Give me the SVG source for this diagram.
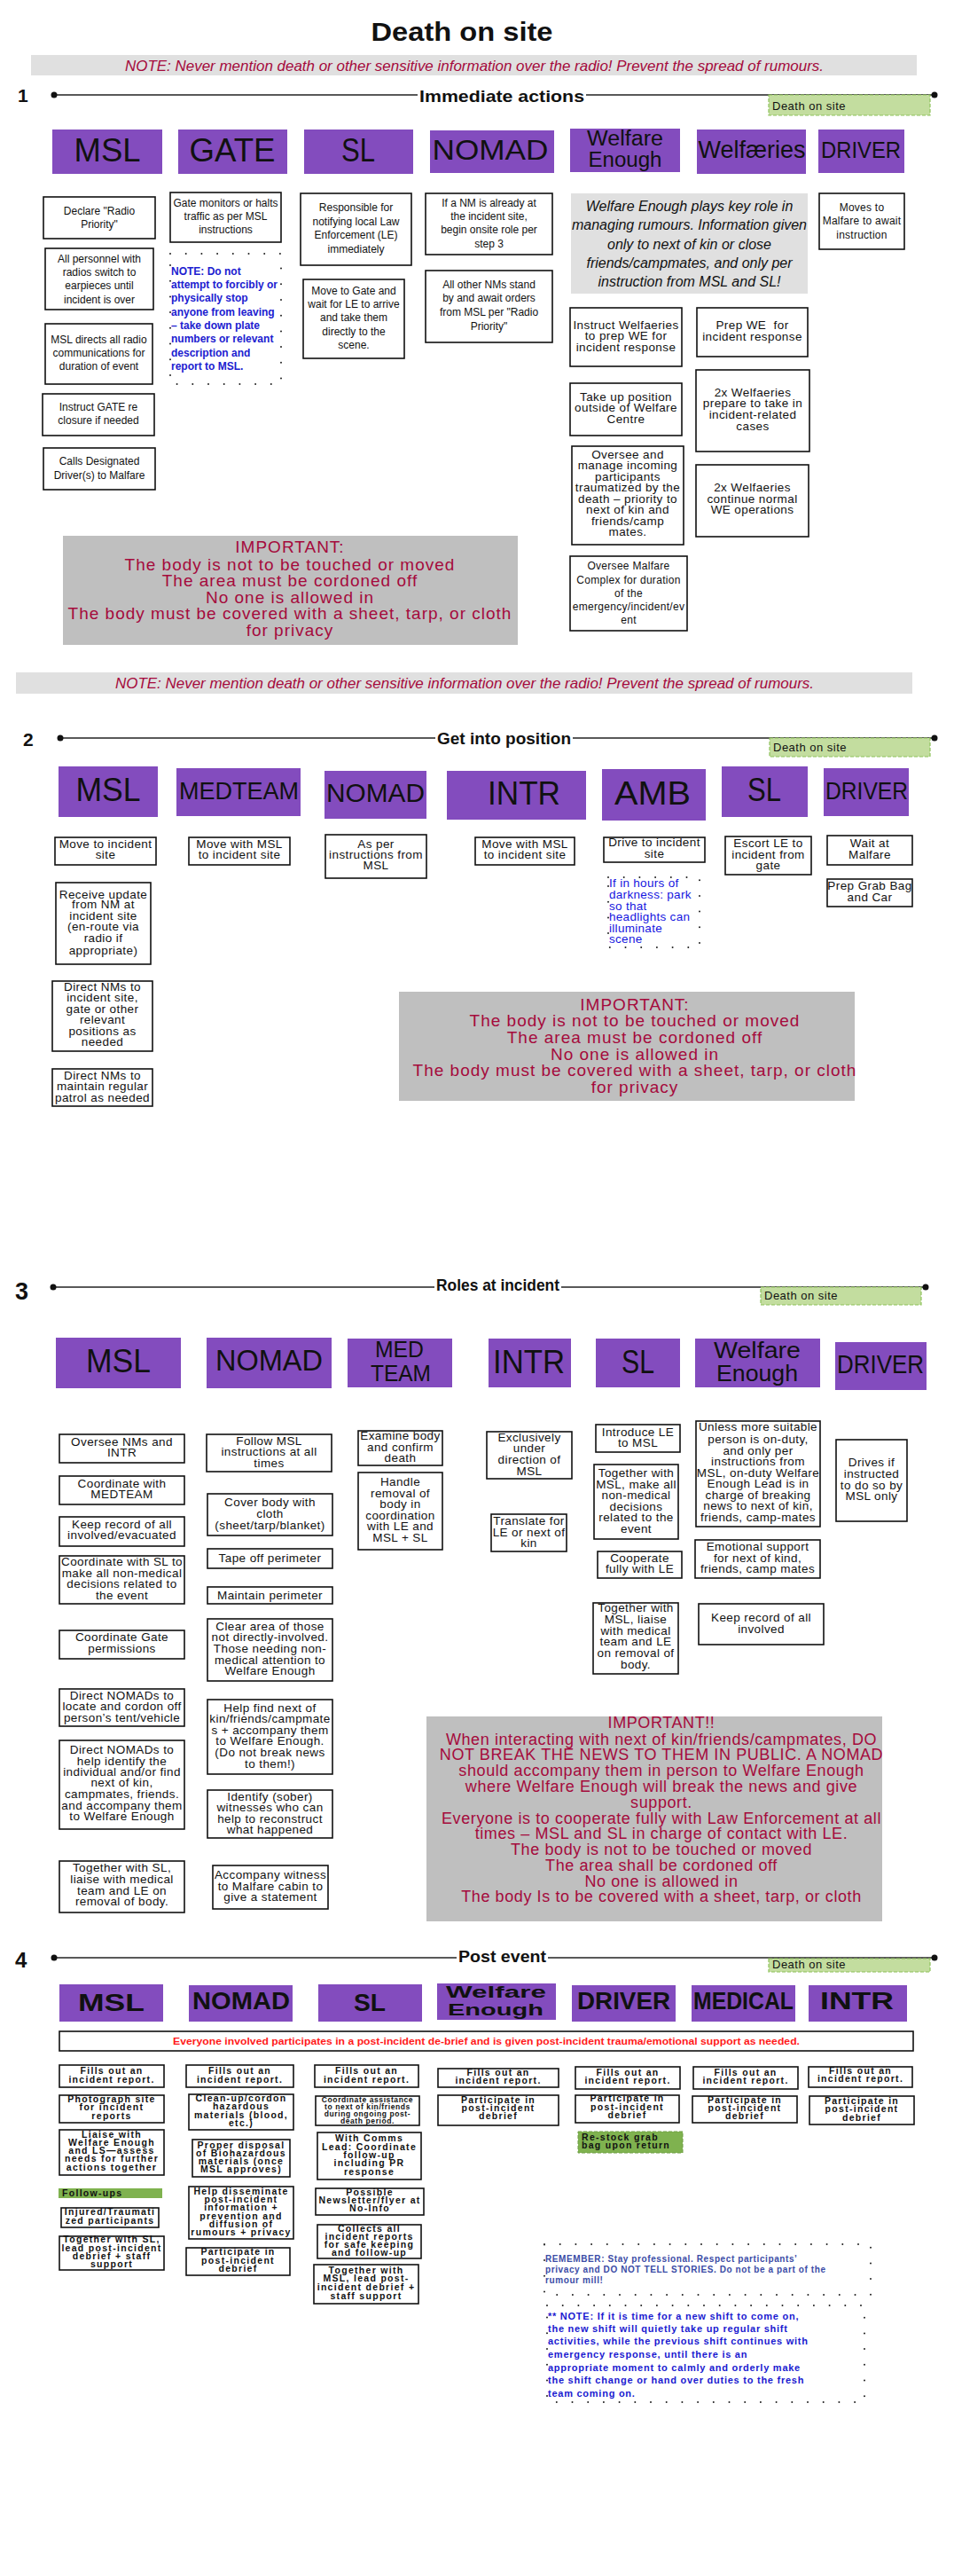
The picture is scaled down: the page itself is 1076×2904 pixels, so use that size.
<svg xmlns="http://www.w3.org/2000/svg" width="1076" height="2904" viewBox="0 0 1076 2904">
<defs>
<style>
text{font-family:"Liberation Sans",Arial,sans-serif;fill:#111}
.hd{fill:#834cbe}
.hl{text-anchor:middle;fill:#111}
.hl4{text-anchor:middle;fill:#111;font-weight:bold}
.bx{fill:#fff;stroke:#111;stroke-width:1.6}
.s1{font-size:12px;text-anchor:middle}
.s2{font-size:13.5px;letter-spacing:0.4px;text-anchor:middle}
.s4{font-size:10.5px;font-weight:bold;letter-spacing:1.3px;text-anchor:middle}
.s4l{font-size:10.5px;font-weight:bold;letter-spacing:1.3px}
.imp{fill:#bfbfbf}
.it{fill:#a50a3c;text-anchor:middle;font-size:19px;letter-spacing:1px}
.it3{fill:#a50a3c;text-anchor:middle;font-size:18px;letter-spacing:0.6px}
.nb{fill:#e0e0e0}
.nt{font-size:17px;font-style:italic;fill:#a50a3c;text-anchor:middle}
.tag{fill:#c3dd9f;stroke:#8ec25b;stroke-width:1.2;stroke-dasharray:4 2}
.tagt{font-size:13px;letter-spacing:0.5px}
.dotb{fill:none;stroke:#222;stroke-width:2;stroke-linecap:round;stroke-dasharray:0 17.7}
.ln{stroke:#222;stroke-width:1.5}
.sec{font-weight:bold}
.st{font-weight:bold;font-size:19px}
.gr{fill:#7fb24f}
</style>
</defs>
<rect width="1076" height="2904" fill="#fff"/>

<g id="title"><text x="521" y="46" font-size="30" font-weight="bold" text-anchor="middle" textLength="205" lengthAdjust="spacingAndGlyphs">Death on site</text></g>

<g id="note-top"><rect class="nb" x="35" y="62" width="999" height="23"/><text class="nt" x="535" y="80" textLength="788" lengthAdjust="spacingAndGlyphs">NOTE: Never mention death or other sensitive information over the radio! Prevent the spread of rumours.</text></g>

<g id="connectors">
<line class="ln" x1="61" y1="107" x2="471" y2="107"/><line class="ln" x1="661" y1="107" x2="1054" y2="107"/>
<circle cx="61" cy="107" r="3.5" fill="#111"/><circle cx="1054" cy="107" r="3.5" fill="#111"/>
<line class="ln" x1="68" y1="832" x2="491" y2="832"/><line class="ln" x1="646" y1="832" x2="1054" y2="832"/>
<circle cx="68" cy="832" r="3.5" fill="#111"/><circle cx="1054" cy="832" r="3.5" fill="#111"/>
<line class="ln" x1="60" y1="1451" x2="490" y2="1451"/><line class="ln" x1="633" y1="1451" x2="1044" y2="1451"/>
<circle cx="60" cy="1451" r="3.5" fill="#111"/><circle cx="1044" cy="1451" r="3.5" fill="#111"/>
<line class="ln" x1="61" y1="2207" x2="515" y2="2207"/><line class="ln" x1="618" y1="2207" x2="1054" y2="2207"/>
<circle cx="61" cy="2207" r="3.5" fill="#111"/><circle cx="1054" cy="2207" r="3.5" fill="#111"/>
</g>

<!-- SECTION 1 -->
<g id="s1-label"><text class="sec" x="20" y="115" font-size="21">1</text><text class="st" x="473" y="115" textLength="186" lengthAdjust="spacingAndGlyphs">Immediate actions</text></g>
<g id="s1-tag"><rect class="tag" x="867" y="107" width="182" height="23"/><text class="tagt" x="871" y="124">Death on site</text></g>

<g id="s1-h-msl"><rect class="hd" x="59" y="146" width="124" height="50"/><text class="hl" x="121" y="182" font-size="37" textLength="75" lengthAdjust="spacingAndGlyphs">MSL</text></g>
<g id="s1-h-gate"><rect class="hd" x="201" y="146" width="123" height="50"/><text class="hl" x="262" y="182" font-size="37" textLength="97" lengthAdjust="spacingAndGlyphs">GATE</text></g>
<g id="s1-h-sl"><rect class="hd" x="343" y="146" width="123" height="50"/><text class="hl" x="404" y="182" font-size="37" textLength="38" lengthAdjust="spacingAndGlyphs">SL</text></g>
<g id="s1-h-nomad"><rect class="hd" x="485" y="147" width="140" height="48"/><text class="hl" x="553" y="180" font-size="31" textLength="131" lengthAdjust="spacingAndGlyphs">NOMAD</text></g>
<g id="s1-h-we"><rect class="hd" x="643" y="145" width="124" height="49"/><text class="hl" x="705" y="164" font-size="23" textLength="86" lengthAdjust="spacingAndGlyphs">Welfare</text><text class="hl" x="705" y="188" font-size="23" textLength="83" lengthAdjust="spacingAndGlyphs">Enough</text></g>
<g id="s1-h-welfaeries"><rect class="hd" x="786" y="146" width="123" height="50"/><text class="hl" x="848" y="178" font-size="27" textLength="121" lengthAdjust="spacingAndGlyphs">Welfæries</text></g>
<g id="s1-h-driver"><rect class="hd" x="923" y="146" width="97" height="49"/><text class="hl" x="971" y="178" font-size="26" textLength="90" lengthAdjust="spacingAndGlyphs">DRIVER</text></g>

<g id="s1-msl-1"><rect class="bx" x="49" y="222" width="126" height="47"/><text class="s1"><tspan x="112" y="242">Declare "Radio</tspan><tspan x="112" y="257">Priority"</tspan></text></g>
<g id="s1-msl-2"><rect class="bx" x="51" y="280" width="122" height="69"/><text class="s1"><tspan x="112" y="296">All personnel with</tspan><tspan x="112" y="311">radios switch to</tspan><tspan x="112" y="326">earpieces until</tspan><tspan x="112" y="342">incident is over</tspan></text></g>
<g id="s1-msl-3"><rect class="bx" x="51" y="365" width="121" height="68"/><text class="s1"><tspan x="111.5" y="387">MSL directs all radio</tspan><tspan x="111.5" y="402">communications for</tspan><tspan x="111.5" y="417">duration of event</tspan></text></g>
<g id="s1-msl-4"><rect class="bx" x="48" y="444" width="126" height="47"/><text class="s1"><tspan x="111" y="463">Instruct GATE re</tspan><tspan x="111" y="478">closure if needed</tspan></text></g>
<g id="s1-msl-5"><rect class="bx" x="49" y="505" width="126" height="47"/><text class="s1"><tspan x="112" y="524">Calls Designated</tspan><tspan x="112" y="540">Driver(s) to Malfare</tspan></text></g>

<g id="s1-gate-1"><rect class="bx" x="192" y="217" width="125" height="56"/><text class="s1"><tspan x="254.5" y="233">Gate monitors or halts</tspan><tspan x="254.5" y="248">traffic as per MSL</tspan><tspan x="254.5" y="263">instructions</tspan></text></g>
<g id="s1-gate-note"><rect class="dotb" x="192" y="286" width="125" height="147"/><text font-size="12" font-weight="bold" style="fill:#2020d0"><tspan x="193" y="310">NOTE: Do not</tspan><tspan x="193" y="325">attempt to forcibly or</tspan><tspan x="193" y="340">physically stop</tspan><tspan x="193" y="356">anyone from leaving</tspan><tspan x="193" y="371">– take down plate</tspan><tspan x="193" y="386">numbers or relevant</tspan><tspan x="193" y="402">description and</tspan><tspan x="193" y="417">report to MSL.</tspan></text></g>

<g id="s1-sl-1"><rect class="bx" x="339" y="218" width="125" height="81"/><text class="s1"><tspan x="401.5" y="238">Responsible for</tspan><tspan x="401.5" y="254">notifying local Law</tspan><tspan x="401.5" y="269">Enforcement (LE)</tspan><tspan x="401.5" y="285">immediately</tspan></text></g>
<g id="s1-sl-2"><rect class="bx" x="342" y="315" width="114" height="89"/><text class="s1"><tspan x="399" y="332">Move to Gate and</tspan><tspan x="399" y="347">wait for LE to arrive</tspan><tspan x="399" y="362">and take them</tspan><tspan x="399" y="378">directly to the</tspan><tspan x="399" y="393">scene.</tspan></text></g>

<g id="s1-nomad-1"><rect class="bx" x="480" y="218" width="143" height="69"/><text class="s1"><tspan x="551.5" y="233">If a NM is already at</tspan><tspan x="551.5" y="248">the incident site,</tspan><tspan x="551.5" y="263">begin onsite role per</tspan><tspan x="551.5" y="279">step 3</tspan></text></g>
<g id="s1-nomad-2"><rect class="bx" x="480" y="305" width="143" height="81"/><text class="s1"><tspan x="551.5" y="325">All other NMs stand</tspan><tspan x="551.5" y="340">by and await orders</tspan><tspan x="551.5" y="356">from MSL per "Radio</tspan><tspan x="551.5" y="372">Priority"</tspan></text></g>

<g id="s1-we-note"><rect class="nb" x="644" y="218" width="267" height="113"/><text font-size="16" font-style="italic" text-anchor="middle"><tspan x="777.5" y="238">Welfare Enough plays key role in</tspan><tspan x="777.5" y="259">managing rumours. Information given</tspan><tspan x="777.5" y="281">only to next of kin or close</tspan><tspan x="777.5" y="302">friends/campmates, and only per</tspan><tspan x="777.5" y="323">instruction from MSL and SL!</tspan></text></g>
<g id="s1-we-1"><rect class="bx" x="643" y="347" width="126" height="66"/><text class="s2"><tspan x="706" y="371">Instruct Welfaeries</tspan><tspan x="706" y="383">to prep WE for</tspan><tspan x="706" y="396">incident response</tspan></text></g>
<g id="s1-we-2"><rect class="bx" x="643" y="432" width="126" height="59"/><text class="s2"><tspan x="706" y="452">Take up position</tspan><tspan x="706" y="464">outside of Welfare</tspan><tspan x="706" y="477">Centre</tspan></text></g>
<g id="s1-we-3"><rect class="bx" x="645" y="503" width="126" height="111"/><text class="s2"><tspan x="708" y="517">Oversee and</tspan><tspan x="708" y="529">manage incoming</tspan><tspan x="708" y="542">participants</tspan><tspan x="708" y="554">traumatized by the</tspan><tspan x="708" y="567">death – priority to</tspan><tspan x="708" y="579">next of kin and</tspan><tspan x="708" y="592">friends/camp</tspan><tspan x="708" y="604">mates.</tspan></text></g>
<g id="s1-we-4"><rect class="bx" x="643" y="627" width="132" height="84"/><text class="s1" letter-spacing="0.3"><tspan x="709" y="642">Oversee Malfare</tspan><tspan x="709" y="658">Complex for duration</tspan><tspan x="709" y="673">of the</tspan><tspan x="709" y="688">emergency/incident/ev</tspan><tspan x="709" y="703">ent</tspan></text></g>

<g id="s1-wf-1"><rect class="bx" x="786" y="347" width="125" height="55"/><text class="s2" xml:space="preserve"><tspan x="848.5" y="371">Prep WE  for</tspan><tspan x="848.5" y="384">incident response</tspan></text></g>
<g id="s1-wf-2"><rect class="bx" x="785" y="417" width="128" height="92"/><text class="s2"><tspan x="849" y="447">2x Welfaeries</tspan><tspan x="849" y="459">prepare to take in</tspan><tspan x="849" y="472">incident-related</tspan><tspan x="849" y="485">cases</tspan></text></g>
<g id="s1-wf-3"><rect class="bx" x="785" y="524" width="127" height="81"/><text class="s2"><tspan x="848.5" y="554">2x Welfaeries</tspan><tspan x="848.5" y="567">continue normal</tspan><tspan x="848.5" y="579">WE operations</tspan></text></g>

<g id="s1-driver-1"><rect class="bx" x="924" y="218" width="96" height="63"/><text class="s1" letter-spacing="0.25"><tspan x="972" y="238">Moves to</tspan><tspan x="972" y="253">Malfare to await</tspan><tspan x="972" y="269">instruction</tspan></text></g>

<g id="s1-important"><rect class="imp" x="71" y="604" width="513" height="123"/><text class="it"><tspan x="327" y="623">IMPORTANT:</tspan><tspan x="327" y="643">The body is not to be touched or moved</tspan><tspan x="327" y="661">The area must be cordoned off</tspan><tspan x="327" y="680">No one is allowed in</tspan><tspan x="327" y="698">The body must be covered with a sheet, tarp, or cloth</tspan><tspan x="327" y="717">for privacy</tspan></text></g>

<g id="note-mid"><rect class="nb" x="18" y="758" width="1011" height="24"/><text class="nt" x="524" y="776" textLength="788" lengthAdjust="spacingAndGlyphs">NOTE: Never mention death or other sensitive information over the radio! Prevent the spread of rumours.</text></g>

<!-- SECTION 2 -->
<g id="s2-label"><text class="sec" x="26" y="841" font-size="21">2</text><text class="st" x="493" y="839" textLength="151" lengthAdjust="spacingAndGlyphs">Get into position</text></g>
<g id="s2-tag"><rect class="tag" x="868" y="832" width="181" height="21"/><text class="tagt" x="872" y="847">Death on site</text></g>

<g id="s2-h-msl"><rect class="hd" x="66" y="864" width="112" height="57"/><text class="hl" x="122" y="903" font-size="37" textLength="73" lengthAdjust="spacingAndGlyphs">MSL</text></g>
<g id="s2-h-medteam"><rect class="hd" x="199" y="866" width="140" height="54"/><text class="hl" x="269.5" y="901" font-size="27" textLength="135" lengthAdjust="spacingAndGlyphs">MEDTEAM</text></g>
<g id="s2-h-nomad"><rect class="hd" x="366" y="869" width="115" height="54"/><text class="hl" x="423.5" y="904" font-size="29" textLength="111" lengthAdjust="spacingAndGlyphs">NOMAD</text></g>
<g id="s2-h-intr"><rect class="hd" x="504" y="869" width="157" height="55"/><text class="hl" x="591" y="907" font-size="37" textLength="82" lengthAdjust="spacingAndGlyphs">INTR</text></g>
<g id="s2-h-amb"><rect class="hd" x="679" y="867" width="117" height="58"/><text class="hl" x="736" y="907" font-size="37" textLength="86" lengthAdjust="spacingAndGlyphs">AMB</text></g>
<g id="s2-h-sl"><rect class="hd" x="814" y="864" width="97" height="57"/><text class="hl" x="862" y="903" font-size="37" textLength="38" lengthAdjust="spacingAndGlyphs">SL</text></g>
<g id="s2-h-driver"><rect class="hd" x="929" y="866" width="96" height="54"/><text class="hl" x="977.5" y="901" font-size="27" textLength="93" lengthAdjust="spacingAndGlyphs">DRIVER</text></g>

<g id="s2-msl-1"><rect class="bx" x="62" y="944" width="114" height="31"/><text class="s2"><tspan x="119" y="956">Move to incident</tspan><tspan x="119" y="968">site</tspan></text></g>
<g id="s2-msl-2"><rect class="bx" x="63" y="995" width="107" height="92"/><text class="s2"><tspan x="116.5" y="1013">Receive update</tspan><tspan x="116.5" y="1024">from NM at</tspan><tspan x="116.5" y="1037">incident site</tspan><tspan x="116.5" y="1049">(en-route via</tspan><tspan x="116.5" y="1062">radio if</tspan><tspan x="116.5" y="1076">appropriate)</tspan></text></g>
<g id="s2-msl-3"><rect class="bx" x="59" y="1106" width="113" height="79"/><text class="s2"><tspan x="115.5" y="1117">Direct NMs to</tspan><tspan x="115.5" y="1129">incident site,</tspan><tspan x="115.5" y="1142">gate or other</tspan><tspan x="115.5" y="1154">relevant</tspan><tspan x="115.5" y="1167">positions as</tspan><tspan x="115.5" y="1179">needed</tspan></text></g>
<g id="s2-msl-4"><rect class="bx" x="59" y="1205" width="113" height="42"/><text class="s2"><tspan x="115.5" y="1217">Direct NMs to</tspan><tspan x="115.5" y="1229">maintain regular</tspan><tspan x="115.5" y="1242">patrol as needed</tspan></text></g>
<g id="s2-medteam-1"><rect class="bx" x="213" y="944" width="114" height="31"/><text class="s2"><tspan x="270" y="956">Move with MSL</tspan><tspan x="270" y="968">to incident site</tspan></text></g>
<g id="s2-nomad-1"><rect class="bx" x="367" y="941" width="114" height="49"/><text class="s2"><tspan x="424" y="956">As per</tspan><tspan x="424" y="968">instructions from</tspan><tspan x="424" y="980">MSL</tspan></text></g>
<g id="s2-intr-1"><rect class="bx" x="536" y="944" width="112" height="31"/><text class="s2"><tspan x="592" y="956">Move with MSL</tspan><tspan x="592" y="968">to incident site</tspan></text></g>
<g id="s2-amb-1"><rect class="bx" x="681" y="944" width="114" height="28"/><text class="s2"><tspan x="738" y="954">Drive to incident</tspan><tspan x="738" y="967">site</tspan></text></g>
<g id="s2-amb-note"><rect class="dotb" x="686" y="989" width="103" height="79"/><text font-size="13.5" letter-spacing="0.3" style="fill:#1515e0"><tspan x="687" y="1000">If in hours of</tspan><tspan x="687" y="1013">darkness: park</tspan><tspan x="687" y="1026">so that</tspan><tspan x="687" y="1038">headlights can</tspan><tspan x="687" y="1051">illuminate</tspan><tspan x="687" y="1063">scene</tspan></text></g>
<g id="s2-sl-1"><rect class="bx" x="818" y="943" width="97" height="43"/><text class="s2"><tspan x="866.5" y="955">Escort LE to</tspan><tspan x="866.5" y="968">incident from</tspan><tspan x="866.5" y="980">gate</tspan></text></g>
<g id="s2-driver-1"><rect class="bx" x="933" y="942" width="96" height="33"/><text class="s2"><tspan x="981" y="955">Wait at</tspan><tspan x="981" y="968">Malfare</tspan></text></g>
<g id="s2-driver-2"><rect class="bx" x="933" y="991" width="96" height="31"/><text class="s2"><tspan x="981" y="1003">Prep Grab Bag</tspan><tspan x="981" y="1016">and Car</tspan></text></g>

<g id="s2-important"><rect class="imp" x="450" y="1118" width="514" height="123"/><text class="it"><tspan x="716" y="1139">IMPORTANT:</tspan><tspan x="716" y="1157">The body is not to be touched or moved</tspan><tspan x="716" y="1176">The area must be cordoned off</tspan><tspan x="716" y="1195">No one is allowed in</tspan><tspan x="716" y="1213">The body must be covered with a sheet, tarp, or cloth</tspan><tspan x="716" y="1232">for privacy</tspan></text></g>

<!-- SECTION 3 -->
<g id="s3-label"><text class="sec" x="17" y="1465" font-size="27">3</text><text class="st" x="492" y="1455" textLength="139" lengthAdjust="spacingAndGlyphs">Roles at incident</text></g>
<g id="s3-tag"><rect class="tag" x="858" y="1451" width="181" height="20"/><text class="tagt" x="862" y="1465">Death on site</text></g>

<g id="s3-h-msl"><rect class="hd" x="63" y="1508" width="141" height="57"/><text class="hl" x="133.5" y="1547" font-size="37" textLength="73" lengthAdjust="spacingAndGlyphs">MSL</text></g>
<g id="s3-h-nomad"><rect class="hd" x="233" y="1508" width="141" height="57"/><text class="hl" x="303.5" y="1545" font-size="33" textLength="121" lengthAdjust="spacingAndGlyphs">NOMAD</text></g>
<g id="s3-h-medteam"><rect class="hd" x="392" y="1509" width="118" height="55"/><text class="hl" x="450.5" y="1530" font-size="25" textLength="55" lengthAdjust="spacingAndGlyphs">MED</text><text class="hl" x="452" y="1557" font-size="25" textLength="68" lengthAdjust="spacingAndGlyphs">TEAM</text></g>
<g id="s3-h-intr"><rect class="hd" x="551" y="1509" width="93" height="55"/><text class="hl" x="596.5" y="1548" font-size="37" textLength="81" lengthAdjust="spacingAndGlyphs">INTR</text></g>
<g id="s3-h-sl"><rect class="hd" x="672" y="1509" width="95" height="55"/><text class="hl" x="719.5" y="1548" font-size="37" textLength="37" lengthAdjust="spacingAndGlyphs">SL</text></g>
<g id="s3-h-we"><rect class="hd" x="784" y="1509" width="141" height="55"/><text class="hl" x="854" y="1531" font-size="25" textLength="98" lengthAdjust="spacingAndGlyphs">Welfare</text><text class="hl" x="854" y="1557" font-size="25" textLength="92" lengthAdjust="spacingAndGlyphs">Enough</text></g>
<g id="s3-h-driver"><rect class="hd" x="942" y="1513" width="103" height="54"/><text class="hl" x="993" y="1548" font-size="30" textLength="98" lengthAdjust="spacingAndGlyphs">DRIVER</text></g>

<g id="s3-msl-1"><rect class="bx" x="67" y="1617" width="141" height="32"/><text class="s2"><tspan x="137.5" y="1630">Oversee NMs and</tspan><tspan x="137.5" y="1642">INTR</tspan></text></g>
<g id="s3-msl-2"><rect class="bx" x="67" y="1664" width="141" height="32"/><text class="s2"><tspan x="137.5" y="1677">Coordinate with</tspan><tspan x="137.5" y="1689">MEDTEAM</tspan></text></g>
<g id="s3-msl-3"><rect class="bx" x="67" y="1710" width="141" height="33"/><text class="s2"><tspan x="137.5" y="1723">Keep record of all</tspan><tspan x="137.5" y="1735">involved/evacuated</tspan></text></g>
<g id="s3-msl-4"><rect class="bx" x="67" y="1754" width="141" height="54"/><text class="s2"><tspan x="137.5" y="1765">Coordinate with SL to</tspan><tspan x="137.5" y="1778">make all non-medical</tspan><tspan x="137.5" y="1790">decisions related to</tspan><tspan x="137.5" y="1803">the event</tspan></text></g>
<g id="s3-msl-5"><rect class="bx" x="67" y="1838" width="141" height="32"/><text class="s2"><tspan x="137.5" y="1850">Coordinate Gate</tspan><tspan x="137.5" y="1863">permissions</tspan></text></g>
<g id="s3-msl-6"><rect class="bx" x="67" y="1904" width="141" height="42"/><text class="s2"><tspan x="137.5" y="1916">Direct NOMADs to</tspan><tspan x="137.5" y="1928">locate and cordon off</tspan><tspan x="137.5" y="1941">person’s tent/vehicle</tspan></text></g>
<g id="s3-msl-7"><rect class="bx" x="67" y="1962" width="141" height="100"/><text class="s2"><tspan x="137.5" y="1977">Direct NOMADs to</tspan><tspan x="137.5" y="1990">help identify the</tspan><tspan x="137.5" y="2002">individual and/or find</tspan><tspan x="137.5" y="2014">next of kin,</tspan><tspan x="137.5" y="2027">campmates, friends.</tspan><tspan x="137.5" y="2040">and accompany them</tspan><tspan x="137.5" y="2052">to Welfare Enough</tspan></text></g>
<g id="s3-msl-8"><rect class="bx" x="67" y="2098" width="141" height="58"/><text class="s2"><tspan x="137.5" y="2110">Together with SL,</tspan><tspan x="137.5" y="2123">liaise with medical</tspan><tspan x="137.5" y="2136">team and LE on</tspan><tspan x="137.5" y="2148">removal of body.</tspan></text></g>

<g id="s3-nomad-1"><rect class="bx" x="233" y="1617" width="141" height="42"/><text class="s2"><tspan x="303.5" y="1629">Follow MSL</tspan><tspan x="303.5" y="1641">instructions at all</tspan><tspan x="303.5" y="1654">times</tspan></text></g>
<g id="s3-nomad-2"><rect class="bx" x="234" y="1684" width="141" height="47"/><text class="s2"><tspan x="304.5" y="1698">Cover body with</tspan><tspan x="304.5" y="1711">cloth</tspan><tspan x="304.5" y="1724">(sheet/tarp/blanket)</tspan></text></g>
<g id="s3-nomad-3"><rect class="bx" x="234" y="1746" width="141" height="22"/><text class="s2"><tspan x="304.5" y="1761">Tape off perimeter</tspan></text></g>
<g id="s3-nomad-4"><rect class="bx" x="234" y="1789" width="141" height="19"/><text class="s2"><tspan x="304.5" y="1803">Maintain perimeter</tspan></text></g>
<g id="s3-nomad-5"><rect class="bx" x="234" y="1825" width="141" height="70"/><text class="s2"><tspan x="304.5" y="1838">Clear area of those</tspan><tspan x="304.5" y="1850">not directly-involved.</tspan><tspan x="304.5" y="1863">Those needing non-</tspan><tspan x="304.5" y="1876">medical attention to</tspan><tspan x="304.5" y="1888">Welfare Enough</tspan></text></g>
<g id="s3-nomad-6"><rect class="bx" x="234" y="1916" width="141" height="84"/><text class="s2"><tspan x="304.5" y="1930">Help find next of</tspan><tspan x="304.5" y="1942">kin/friends/campmate</tspan><tspan x="304.5" y="1955">s + accompany them</tspan><tspan x="304.5" y="1967">to Welfare Enough.</tspan><tspan x="304.5" y="1980">(Do not break news</tspan><tspan x="304.5" y="1993">to them!)</tspan></text></g>
<g id="s3-nomad-7"><rect class="bx" x="234" y="2018" width="141" height="54"/><text class="s2"><tspan x="304.5" y="2030">Identify (sober)</tspan><tspan x="304.5" y="2042">witnesses who can</tspan><tspan x="304.5" y="2055">help to reconstruct</tspan><tspan x="304.5" y="2067">what happened</tspan></text></g>
<g id="s3-nomad-8"><rect class="bx" x="240" y="2103" width="130" height="49"/><text class="s2"><tspan x="305" y="2118">Accompany witness</tspan><tspan x="305" y="2131">to Malfare cabin to</tspan><tspan x="305" y="2143">give a statement</tspan></text></g>

<g id="s3-med-1"><rect class="bx" x="404" y="1613" width="95" height="39"/><text class="s2"><tspan x="451.5" y="1623">Examine body</tspan><tspan x="451.5" y="1636">and confirm</tspan><tspan x="451.5" y="1648">death</tspan></text></g>
<g id="s3-med-2"><rect class="bx" x="404" y="1660" width="95" height="87"/><text class="s2"><tspan x="451.5" y="1675">Handle</tspan><tspan x="451.5" y="1688">removal of</tspan><tspan x="451.5" y="1700">body in</tspan><tspan x="451.5" y="1713">coordination</tspan><tspan x="451.5" y="1725">with LE and</tspan><tspan x="451.5" y="1738">MSL + SL</tspan></text></g>

<g id="s3-intr-1"><rect class="bx" x="549" y="1614" width="96" height="53"/><text class="s2"><tspan x="597" y="1625">Exclusively</tspan><tspan x="597" y="1637">under</tspan><tspan x="597" y="1650">direction of</tspan><tspan x="597" y="1663">MSL</tspan></text></g>
<g id="s3-intr-2"><rect class="bx" x="554" y="1707" width="85" height="42"/><text class="s2"><tspan x="596.5" y="1719">Translate for</tspan><tspan x="596.5" y="1732">LE or next of</tspan><tspan x="596.5" y="1744">kin</tspan></text></g>

<g id="s3-sl-1"><rect class="bx" x="672" y="1606" width="95" height="31"/><text class="s2"><tspan x="719.5" y="1619">Introduce LE</tspan><tspan x="719.5" y="1631">to MSL</tspan></text></g>
<g id="s3-sl-2"><rect class="bx" x="670" y="1651" width="95" height="84"/><text class="s2"><tspan x="717.5" y="1665">Together with</tspan><tspan x="717.5" y="1678">MSL, make all</tspan><tspan x="717.5" y="1690">non-medical</tspan><tspan x="717.5" y="1703">decisions</tspan><tspan x="717.5" y="1715">related to the</tspan><tspan x="717.5" y="1728">event</tspan></text></g>
<g id="s3-sl-3"><rect class="bx" x="674" y="1749" width="95" height="30"/><text class="s2"><tspan x="721.5" y="1761">Cooperate</tspan><tspan x="721.5" y="1773">fully with LE</tspan></text></g>
<g id="s3-sl-4"><rect class="bx" x="669" y="1807" width="96" height="80"/><text class="s2"><tspan x="717" y="1817">Together with</tspan><tspan x="717" y="1830">MSL, liaise</tspan><tspan x="717" y="1843">with medical</tspan><tspan x="717" y="1855">team and LE</tspan><tspan x="717" y="1868">on removal of</tspan><tspan x="717" y="1881">body.</tspan></text></g>

<g id="s3-we-1"><rect class="bx" x="785" y="1602" width="140" height="119"/><text class="s2"><tspan x="855" y="1613">Unless more suitable</tspan><tspan x="855" y="1627">person is on-duty,</tspan><tspan x="855" y="1640">and only per</tspan><tspan x="855" y="1652">instructions from</tspan><tspan x="855" y="1665">MSL, on-duty Welfare</tspan><tspan x="855" y="1677">Enough Lead is in</tspan><tspan x="855" y="1690">charge of breaking</tspan><tspan x="855" y="1702">news to next of kin,</tspan><tspan x="855" y="1715">friends, camp-mates</tspan></text></g>
<g id="s3-we-2"><rect class="bx" x="784" y="1736" width="141" height="43"/><text class="s2"><tspan x="854.5" y="1748">Emotional support</tspan><tspan x="854.5" y="1761">for next of kind,</tspan><tspan x="854.5" y="1773">friends, camp mates</tspan></text></g>
<g id="s3-we-3"><rect class="bx" x="788" y="1808" width="141" height="46"/><text class="s2"><tspan x="858.5" y="1828">Keep record of all</tspan><tspan x="858.5" y="1841">involved</tspan></text></g>

<g id="s3-driver-1"><rect class="bx" x="943" y="1623" width="80" height="92"/><text class="s2"><tspan x="983" y="1653">Drives if</tspan><tspan x="983" y="1666">instructed</tspan><tspan x="983" y="1679">to do so by</tspan><tspan x="983" y="1691">MSL only</tspan></text></g>

<g id="s3-important"><rect class="imp" x="481" y="1935" width="514" height="231"/><text class="it3"><tspan x="746" y="1948">IMPORTANT!!</tspan><tspan x="746" y="1967">When interacting with next of kin/friends/campmates, DO</tspan><tspan x="746" y="1984">NOT BREAK THE NEWS TO THEM IN PUBLIC. A NOMAD</tspan><tspan x="746" y="2002">should accompany them in person to Welfare Enough</tspan><tspan x="746" y="2020">where Welfare Enough will break the news and give</tspan><tspan x="746" y="2038">support.</tspan><tspan x="746" y="2056">Everyone is to cooperate fully with Law Enforcement at all</tspan><tspan x="746" y="2073">times – MSL and SL in charge of contact with LE.</tspan><tspan x="746" y="2091">The body is not to be touched or moved</tspan><tspan x="746" y="2109">The area shall be cordoned off</tspan><tspan x="746" y="2127">No one is allowed in</tspan><tspan x="746" y="2144">The body Is to be covered with a sheet, tarp, or cloth</tspan></text></g>

<!-- SECTION 4 -->
<g id="s4-label"><text class="sec" x="17" y="2218" font-size="24">4</text><text class="st" x="517" y="2212" textLength="99" lengthAdjust="spacingAndGlyphs">Post event</text></g>
<g id="s4-tag"><rect class="tag" x="867" y="2208" width="182" height="15"/><text class="tagt" x="871" y="2219">Death on site</text></g>

<g id="s4-h-msl"><rect class="hd" x="67" y="2237" width="117" height="42"/><text class="hl4" x="125.5" y="2267" font-size="27" textLength="75" lengthAdjust="spacingAndGlyphs">MSL</text></g>
<g id="s4-h-nomad"><rect class="hd" x="213" y="2238" width="117" height="41"/><text class="hl4" x="272" y="2265" font-size="27" textLength="110" lengthAdjust="spacingAndGlyphs">NOMAD</text></g>
<g id="s4-h-sl"><rect class="hd" x="359" y="2237" width="117" height="42"/><text class="hl4" x="417" y="2267" font-size="27" textLength="36" lengthAdjust="spacingAndGlyphs">SL</text></g>
<g id="s4-h-we"><rect class="hd" x="493" y="2236" width="134" height="41"/><text class="hl4" x="559.5" y="2252" font-size="18" textLength="113" lengthAdjust="spacingAndGlyphs">Welfare</text><text class="hl4" x="559" y="2272" font-size="18" textLength="108" lengthAdjust="spacingAndGlyphs">Enough</text></g>
<g id="s4-h-driver"><rect class="hd" x="645" y="2238" width="117" height="41"/><text class="hl4" x="703.5" y="2265" font-size="27" textLength="105" lengthAdjust="spacingAndGlyphs">DRIVER</text></g>
<g id="s4-h-medical"><rect class="hd" x="780" y="2238" width="117" height="41"/><text class="hl4" x="838.5" y="2265" font-size="27" textLength="113" lengthAdjust="spacingAndGlyphs">MEDICAL</text></g>
<g id="s4-h-intr"><rect class="hd" x="912" y="2238" width="111" height="41"/><text class="hl4" x="966.5" y="2265" font-size="27" textLength="83" lengthAdjust="spacingAndGlyphs">INTR</text></g>

<g id="s4-banner"><rect class="bx" x="67" y="2290" width="963" height="22"/><text x="548.5" y="2305" font-size="10.5" font-weight="bold" text-anchor="middle" style="fill:#ff1a1a" textLength="707" lengthAdjust="spacingAndGlyphs">Everyone involved participates in a post-incident de-brief and is given post-incident trauma/emotional support as needed.</text></g>

<g id="s4-msl-1"><rect class="bx" x="67" y="2328" width="118" height="25"/><text class="s4"><tspan x="126" y="2338">Fills out an</tspan><tspan x="126" y="2348">incident report.</tspan></text></g>
<g id="s4-msl-2"><rect class="bx" x="67" y="2362" width="118" height="31"/><text class="s4"><tspan x="126" y="2370">Photograph site</tspan><tspan x="126" y="2379">for incident</tspan><tspan x="126" y="2389">reports</tspan></text></g>
<g id="s4-msl-3"><rect class="bx" x="67" y="2401" width="118" height="51"/><text class="s4"><tspan x="126" y="2410">Liaise with</tspan><tspan x="126" y="2419">Welfare Enough</tspan><tspan x="126" y="2428">and LS—assess</tspan><tspan x="126" y="2437">needs for further</tspan><tspan x="126" y="2447">actions together</tspan></text></g>
<g id="s4-msl-followups"><rect class="gr" x="66" y="2467" width="117" height="11"/><text class="s4l" x="70" y="2476">Follow-ups</text></g>
<g id="s4-msl-4"><rect class="bx" x="69" y="2489" width="110" height="22"/><text class="s4"><tspan x="124" y="2497">Injured/Traumati</tspan><tspan x="124" y="2507">zed participants</tspan></text></g>
<g id="s4-msl-5"><rect class="bx" x="67" y="2521" width="118" height="38"/><text class="s4"><tspan x="126" y="2528">Together with SL,</tspan><tspan x="126" y="2538">lead post-incident</tspan><tspan x="126" y="2547">debrief + staff</tspan><tspan x="126" y="2556">support</tspan></text></g>

<g id="s4-nomad-1"><rect class="bx" x="210" y="2328" width="121" height="25"/><text class="s4"><tspan x="270.5" y="2338">Fills out an</tspan><tspan x="270.5" y="2348">incident report.</tspan></text></g>
<g id="s4-nomad-2"><rect class="bx" x="213" y="2361" width="118" height="40"/><text class="s4"><tspan x="272" y="2369">Clean-up/cordon</tspan><tspan x="272" y="2378">hazardous</tspan><tspan x="272" y="2388">materials (blood,</tspan><tspan x="272" y="2397">etc.)</tspan></text></g>
<g id="s4-nomad-3"><rect class="bx" x="217" y="2412" width="110" height="42"/><text class="s4"><tspan x="272" y="2422">Proper disposal</tspan><tspan x="272" y="2431">of Biohazardous</tspan><tspan x="272" y="2440">materials (once</tspan><tspan x="272" y="2449">MSL approves)</tspan></text></g>
<g id="s4-nomad-4"><rect class="bx" x="213" y="2465" width="118" height="59"/><text class="s4"><tspan x="272" y="2474">Help disseminate</tspan><tspan x="272" y="2483">post-incident</tspan><tspan x="272" y="2492">information +</tspan><tspan x="272" y="2502">prevention and</tspan><tspan x="272" y="2511">diffusion of</tspan><tspan x="272" y="2520">rumours + privacy</tspan></text></g>
<g id="s4-nomad-5"><rect class="bx" x="210" y="2534" width="117" height="31"/><text class="s4"><tspan x="268.5" y="2542">Participate in</tspan><tspan x="268.5" y="2552">post-incident</tspan><tspan x="268.5" y="2561">debrief</tspan></text></g>

<g id="s4-sl-1"><rect class="bx" x="355" y="2328" width="117" height="25"/><text class="s4"><tspan x="413.5" y="2338">Fills out an</tspan><tspan x="413.5" y="2348">incident report.</tspan></text></g>
<g id="s4-sl-2"><rect class="bx" x="356" y="2363" width="117" height="33"/><text font-size="8.5" font-weight="bold" letter-spacing="0.6" text-anchor="middle"><tspan x="414.5" y="2370">Coordinate assistance</tspan><tspan x="414.5" y="2378">to next of kin/friends</tspan><tspan x="414.5" y="2386">during ongoing post-</tspan><tspan x="414.5" y="2394">death period.</tspan></text></g>
<g id="s4-sl-3"><rect class="bx" x="358" y="2404" width="117" height="53"/><text class="s4"><tspan x="416.5" y="2414">With Comms</tspan><tspan x="416.5" y="2424">Lead: Coordinate</tspan><tspan x="416.5" y="2433">follow-up</tspan><tspan x="416.5" y="2442">including PR</tspan><tspan x="416.5" y="2452">response</tspan></text></g>
<g id="s4-sl-4"><rect class="bx" x="356" y="2467" width="122" height="30"/><text class="s4"><tspan x="417" y="2475">Possible</tspan><tspan x="417" y="2484">Newsletter/flyer at</tspan><tspan x="417" y="2493">No-Info</tspan></text></g>
<g id="s4-sl-5"><rect class="bx" x="358" y="2508" width="117" height="38"/><text class="s4"><tspan x="416.5" y="2516">Collects all</tspan><tspan x="416.5" y="2525">incident reports</tspan><tspan x="416.5" y="2534">for safe keeping</tspan><tspan x="416.5" y="2543">and follow-up</tspan></text></g>
<g id="s4-sl-6"><rect class="bx" x="354" y="2553" width="118" height="44"/><text class="s4"><tspan x="413" y="2563">Together with</tspan><tspan x="413" y="2572">MSL, lead post-</tspan><tspan x="413" y="2582">incident debrief +</tspan><tspan x="413" y="2592">staff support</tspan></text></g>

<g id="s4-we-1"><rect class="bx" x="494" y="2332" width="136" height="21"/><text class="s4"><tspan x="562" y="2340">Fills out an</tspan><tspan x="562" y="2349">incident report.</tspan></text></g>
<g id="s4-we-2"><rect class="bx" x="494" y="2362" width="136" height="34"/><text class="s4"><tspan x="562" y="2371">Participate in</tspan><tspan x="562" y="2380">post-incident</tspan><tspan x="562" y="2389">debrief</tspan></text></g>

<g id="s4-driver-1"><rect class="bx" x="649" y="2330" width="118" height="25"/><text class="s4"><tspan x="708" y="2340">Fills out an</tspan><tspan x="708" y="2349">incident report.</tspan></text></g>
<g id="s4-driver-2"><rect class="bx" x="649" y="2362" width="117" height="31"/><text class="s4"><tspan x="707.5" y="2369">Participate in</tspan><tspan x="707.5" y="2379">post-incident</tspan><tspan x="707.5" y="2388">debrief</tspan></text></g>
<g id="s4-driver-3"><rect class="gr" x="652" y="2403" width="118" height="24" stroke="#6e9e44" stroke-dasharray="4 2"/><text class="s4l"><tspan x="656" y="2413">Re-stock grab</tspan><tspan x="656" y="2422">bag upon return</tspan></text></g>

<g id="s4-medical-1"><rect class="bx" x="782" y="2330" width="118" height="25"/><text class="s4"><tspan x="841" y="2340">Fills out an</tspan><tspan x="841" y="2349">incident report.</tspan></text></g>
<g id="s4-medical-2"><rect class="bx" x="781" y="2363" width="118" height="30"/><text class="s4"><tspan x="840" y="2371">Participate in</tspan><tspan x="840" y="2380">post-incident</tspan><tspan x="840" y="2389">debrief</tspan></text></g>

<g id="s4-intr-1"><rect class="bx" x="912" y="2330" width="117" height="23"/><text class="s4"><tspan x="970.5" y="2338">Fills out an</tspan><tspan x="970.5" y="2347">incident report.</tspan></text></g>
<g id="s4-intr-2"><rect class="bx" x="913" y="2363" width="118" height="32"/><text class="s4"><tspan x="972" y="2372">Participate in</tspan><tspan x="972" y="2381">post-incident</tspan><tspan x="972" y="2391">debrief</tspan></text></g>

<g id="s4-remember"><rect class="dotb" x="614" y="2530" width="368" height="57"/><text font-size="10" font-weight="bold" letter-spacing="0.6" style="fill:#3b4ca6"><tspan x="615" y="2550">REMEMBER: Stay professional. Respect participants’</tspan><tspan x="615" y="2562">privacy and DO NOT TELL STORIES. Do not be a part of the</tspan><tspan x="615" y="2574">rumour mill!</tspan></text></g>
<g id="s4-shift-note"><rect class="dotb" x="617" y="2599" width="358" height="109"/><text font-size="11" font-weight="bold" letter-spacing="0.75" style="fill:#1a1ad0"><tspan x="618" y="2615">** NOTE: If it is time for a new shift to come on,</tspan><tspan x="618" y="2629">the new shift will quietly take up regular shift</tspan><tspan x="618" y="2643">activities, while the previous shift continues with</tspan><tspan x="618" y="2658">emergency response, until there is an</tspan><tspan x="618" y="2673">appropriate moment to calmly and orderly make</tspan><tspan x="618" y="2687">the shift change or hand over duties to the fresh</tspan><tspan x="618" y="2702">team coming on.</tspan></text></g>
</svg>
